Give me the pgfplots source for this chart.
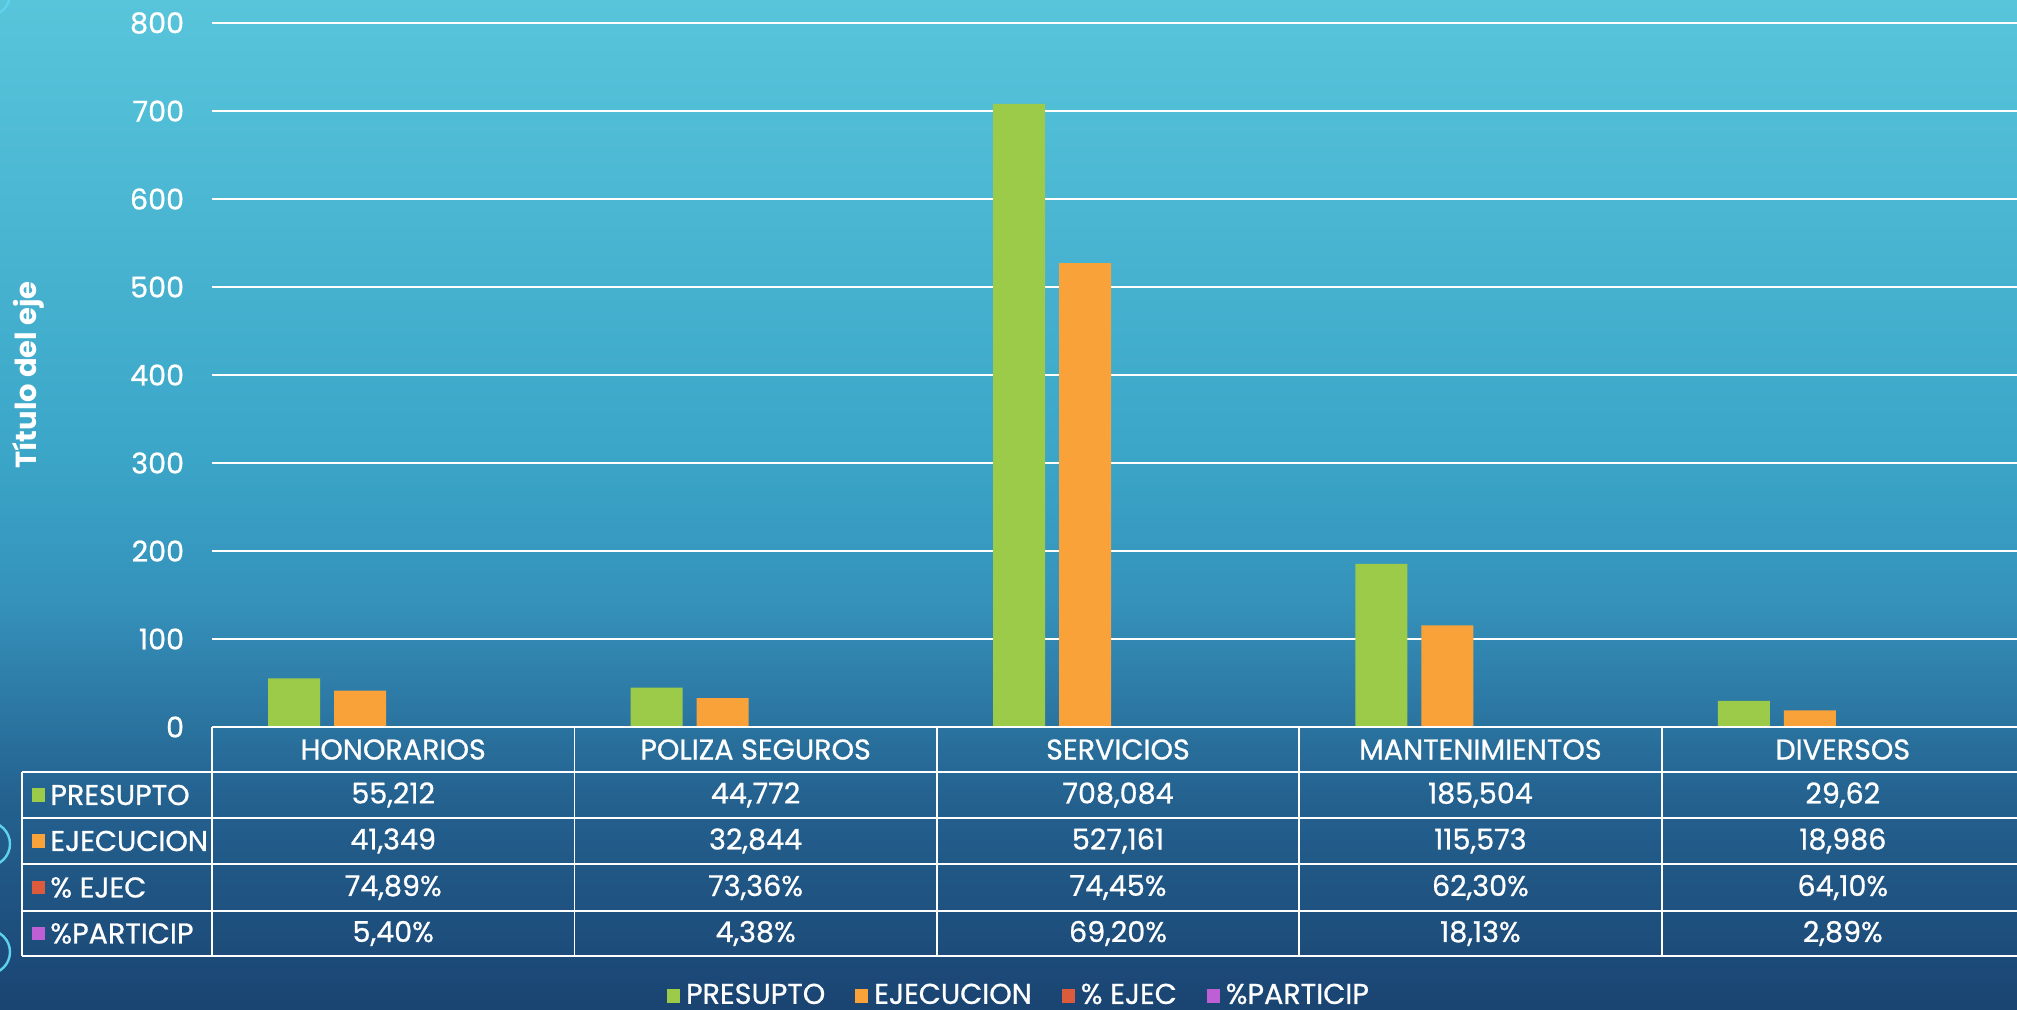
\documentclass[border=0pt]{standalone}
\usepackage{fontspec}
\setmainfont{Poppins}[UprightFeatures={FakeBold=0.8}]
\usepackage{pgfplots}
\pgfplotsset{compat=1.18}
\definecolor{cgreen}{HTML}{9BCB48}
\definecolor{corange}{HTML}{F9A23A}
\definecolor{cred}{HTML}{DC5B3C}
\definecolor{cpurple}{HTML}{BE5FD6}
\definecolor{bg0}{HTML}{1A4472}
\definecolor{bg1}{HTML}{24618F}
\definecolor{bg2}{HTML}{3592BB}
\definecolor{bg3}{HTML}{3BA6C8}
\definecolor{bg4}{HTML}{58C5DB}
\definecolor{ringc}{HTML}{5FD3EC}
\pgfdeclareverticalshading{bgshade}{100bp}{color(0bp)=(bg0); color(25bp)=(bg0); color(35.4bp)=(bg1); color(45.3bp)=(bg2); color(52.7bp)=(bg3); color(75bp)=(bg4); color(100bp)=(bg4)}
\newcommand\tfont{\fontsize{14.3}{17}\selectfont}
\begin{document}
\tfont
\begin{tikzpicture}
\useasboundingbox (0pt,0pt) rectangle (1008.5pt,505pt);
\shade[shading=bgshade] (0pt,0pt) rectangle (1008.5pt,505pt);
\begin{scope}
\clip (0pt,0pt) rectangle (1008.5pt,505pt);
\draw[ringc, line width=1.2pt] (-6pt,83pt) circle (11pt);
\draw[ringc, line width=1.2pt] (-6pt,29pt) circle (11pt);
\draw[ringc, line width=1.2pt] (-6pt,508pt) circle (11pt);
\end{scope}
\begin{scope}
\clip (0pt,0pt) rectangle (1008.5pt,505pt);
\begin{axis}[
  at={(106pt,141.5pt)}, anchor=south west,
  scale only axis, width=906pt, height=352pt,
  ybar=7pt, bar width=26pt,
  xmin=-0.5, xmax=4.5, ymin=0, ymax=800,
  xtick={0,1,2,3,4},
  xticklabels={HONORARIOS,POLIZA SEGUROS,SERVICIOS,MANTENIMIENTOS,DIVERSOS},
  xticklabel style={anchor=center, yshift=-7pt, text=white, font=\tfont},
  ytick={0,100,...,800},
  yticklabel style={text=white, anchor=east, xshift=-9pt, font=\tfont},
  /pgf/number format/assume math mode=true,
  ymajorgrids, grid style={white, line width=0.9pt},
  axis line style={draw=none}, major tick style={draw=none},
  ylabel={Título del eje},
  ylabel style={at={(axis description cs:-0.1015,0.5)}, anchor=center, text=white, font=\bfseries\fontsize{14.5}{17}\selectfont},
  legend style={at={(axis description cs:0.4459,-0.382)}, anchor=center, draw=none, fill=none, text=white, font=\tfont, inner sep=1pt, /tikz/every even column/.append style={column sep=13pt}},
  legend columns=-1,
  legend image code/.code={\fill[#1] (0pt,-3.3pt) rectangle (6.6pt,3.3pt); \path (7.5pt,0pt);},
  clip=false,
]
\addplot[fill=cgreen, draw=none] coordinates {(0,55.212) (1,44.772) (2,708.084) (3,185.504) (4,29.62)};
\addplot[fill=corange, draw=none] coordinates {(0,41.349) (1,32.844) (2,527.161) (3,115.573) (4,18.986)};
\addplot[fill=cred, draw=none] coordinates {(0,0.7489) (1,0.7336) (2,0.7445) (3,0.6230) (4,0.6410)};
\addplot[fill=cpurple, draw=none] coordinates {(0,0.0540) (1,0.0438) (2,0.6920) (3,0.1813) (4,0.0289)};
\legend{PRESUPTO,EJECUCION,\% EJEC,\%PARTICIP}
\end{axis}
\end{scope}
% data table
\begin{scope}[white, line width=0.9pt]
\draw (106pt,141.5pt) -- (1008.5pt,141.5pt);
\foreach \yy in {119,96,73,49.5,27} \draw (11pt,\yy pt) -- (1008.5pt,\yy pt);
\draw (11pt,27pt) -- (11pt,119pt);
\draw (106pt,27pt) -- (106pt,141.5pt);
\foreach \xx in {287.2,468.4,649.6,830.8} \draw (\xx pt,27pt) -- (\xx pt,141.5pt);
\end{scope}
\begin{scope}[every node/.style={text=white, anchor=center, inner sep=0pt}]
\fill[cgreen] (16pt,104.2pt) rectangle (22.6pt,110.8pt);
\fill[corange] (16pt,81.2pt) rectangle (22.6pt,87.8pt);
\fill[cred] (16pt,57.95pt) rectangle (22.6pt,64.55pt);
\fill[cpurple] (16pt,34.95pt) rectangle (22.6pt,41.55pt);
\node[anchor=west] at (25pt,107.5pt) {PRESUPTO};
\node[anchor=west] at (25pt,84.5pt) {EJECUCION};
\node[anchor=west] at (25pt,61.25pt) {\% EJEC};
\node[anchor=west] at (25pt,38.25pt) {\%PARTICIP};
\node at (196.6pt,107.5pt) {55,212};
\node at (377.8pt,107.5pt) {44,772};
\node at (559pt,107.5pt) {708,084};
\node at (740.2pt,107.5pt) {185,504};
\node at (921.4pt,107.5pt) {29,62};
\node at (196.6pt,84.5pt) {41,349};
\node at (377.8pt,84.5pt) {32,844};
\node at (559pt,84.5pt) {527,161};
\node at (740.2pt,84.5pt) {115,573};
\node at (921.4pt,84.5pt) {18,986};
\node at (196.6pt,61.25pt) {74,89\%};
\node at (377.8pt,61.25pt) {73,36\%};
\node at (559pt,61.25pt) {74,45\%};
\node at (740.2pt,61.25pt) {62,30\%};
\node at (921.4pt,61.25pt) {64,10\%};
\node at (196.6pt,38.25pt) {5,40\%};
\node at (377.8pt,38.25pt) {4,38\%};
\node at (559pt,38.25pt) {69,20\%};
\node at (740.2pt,38.25pt) {18,13\%};
\node at (921.4pt,38.25pt) {2,89\%};
\end{scope}
\end{tikzpicture}
\end{document}
